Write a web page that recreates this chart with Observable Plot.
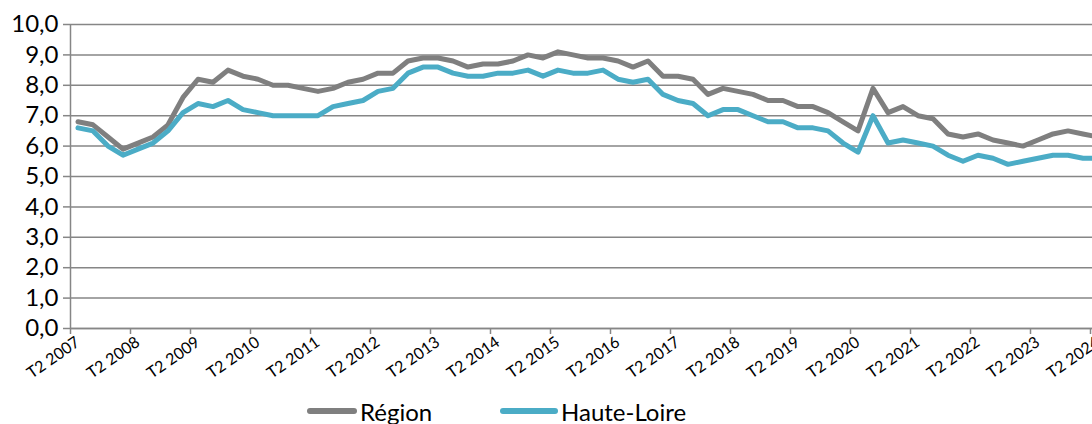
<!DOCTYPE html>
<html><head><meta charset="utf-8">
<script src="https://cdn.jsdelivr.net/npm/d3@7"></script>
<script src="https://cdn.jsdelivr.net/npm/@observablehq/plot@0.6"></script>
<style>
html,body{margin:0;padding:0;background:#fff;overflow:hidden;width:1092px;height:424px;position:relative}
#chart{position:absolute;left:0;top:0}
.item{position:absolute;top:396px;height:30px;display:flex;align-items:center;font-family:Lato,sans-serif;font-size:24px;color:#000;white-space:nowrap}
.sw{height:6px;border-radius:3px;margin-right:3px}
</style></head><body>
<div id="chart"></div>
<div id="legend"></div>
<script>
const tickLabels = ["T2 2007","T2 2008","T2 2009","T2 2010","T2 2011","T2 2012","T2 2013","T2 2014","T2 2015","T2 2016","T2 2017","T2 2018","T2 2019","T2 2020","T2 2021","T2 2022","T2 2023","T2 2024"];
const seriesNames = ["Région","Haute-Loire"];
const seriesColors = ["#7f7f7f","#4bacc6"];
const region = [6.8,6.7,6.3,5.9,6.1,6.3,6.7,7.6,8.2,8.1,8.5,
  8.3,8.2,8.0,8.0,7.9,7.8,7.9,8.1,8.2,8.4,8.4,
  8.8,8.9,8.9,8.8,8.6,8.7,8.7,8.8,9.0,8.9,9.1,9.0,
  8.9,8.9,8.8,8.6,8.8,8.3,8.3,8.2,7.7,7.9,7.8,7.7,
  7.5,7.5,7.3,7.3,7.1,6.8,6.5,7.9,7.1,7.3,7.0,
  6.9,6.4,6.3,6.4,6.2,6.1,6.0,6.2,6.4,6.5,6.4,6.3];
const hauteLoire = [6.6,6.5,6.0,5.7,5.9,6.1,6.5,7.1,7.4,7.3,7.5,
  7.2,7.1,7.0,7.0,7.0,7.0,7.3,7.4,7.5,7.8,7.9,
  8.4,8.6,8.6,8.4,8.3,8.3,8.4,8.4,8.5,8.3,8.5,8.4,
  8.4,8.5,8.2,8.1,8.2,7.7,7.5,7.4,7.0,7.2,7.2,7.0,
  6.8,6.8,6.6,6.6,6.5,6.1,5.8,7.0,6.1,6.2,6.1,
  6.0,5.7,5.5,5.7,5.6,5.4,5.5,5.6,5.7,5.7,5.6,5.6];
const yTicks = [0,1,2,3,4,5,6,7,8,9,10];

const n = region.length;
const data = [
  ...region.map((v,i)=>({i, v, s: seriesNames[0]})),
  ...hauteLoire.map((v,i)=>({i, v, s: seriesNames[1]}))
];
const bounds = d3.range(-0.5, n - 1, 4);
const labelIdx = tickLabels.map((_, j) => j * 4);
const gridColor = "#868686";

const plot = Plot.plot({
  width: 1092, height: 392,
  marginLeft: 70, marginRight: 0, marginTop: 24, marginBottom: 64,
  style: {fontFamily: "Lato, sans-serif", background: "white", color: "#000", overflow: "visible"},
  x: {type: "linear", domain: [-0.5, n - 0.5], range: [70, 70 + 15 * n], axis: null},
  y: {domain: [0, 10], range: [328, 24], axis: null},
  color: {domain: seriesNames, range: seriesColors},
  marks: [
    Plot.gridY(yTicks, {stroke: gridColor, strokeOpacity: 1, strokeWidth: 1.5}),
    Plot.axisY(yTicks, {tickSize: 7, tickPadding: 5, label: null, stroke: gridColor, strokeWidth: 1.5, fontSize: 24,
      tickFormat: d => d.toFixed(1).replace(".", ",")}),
    Plot.axisX(bounds, {tickSize: 6, label: null, stroke: gridColor, strokeWidth: 1.5, tickFormat: () => ""}),
    Plot.ruleY([0], {stroke: gridColor, strokeWidth: 1.5}),
    Plot.ruleX([-0.5], {y1: 0, y2: 10, stroke: gridColor, strokeWidth: 1.5}),
    Plot.line(data, {x: "i", y: "v", stroke: "s", z: "s", strokeWidth: 5, strokeLinejoin: "round", clip: true}),
    Plot.text(labelIdx, {x: d => d, y: () => 0, text: (d, j) => tickLabels[j], rotate: -35, textAnchor: "end",
      dx: 0, dy: 12, fontSize: 16, fill: "#000"})
  ]
});
document.getElementById("chart").appendChild(plot);

const legend = document.getElementById("legend");
const legendPos = [{left: 307, sw: 50}, {left: 500, sw: 58}];
seriesNames.forEach((name, k) => {
  const it = document.createElement("div");
  it.className = "item";
  it.style.left = legendPos[k].left + "px";
  const sw = document.createElement("span");
  sw.className = "sw";
  sw.style.width = legendPos[k].sw + "px";
  sw.style.background = seriesColors[k];
  const tx = document.createElement("span");
  tx.textContent = name;
  it.appendChild(sw); it.appendChild(tx);
  legend.appendChild(it);
});
</script>
</body></html>
